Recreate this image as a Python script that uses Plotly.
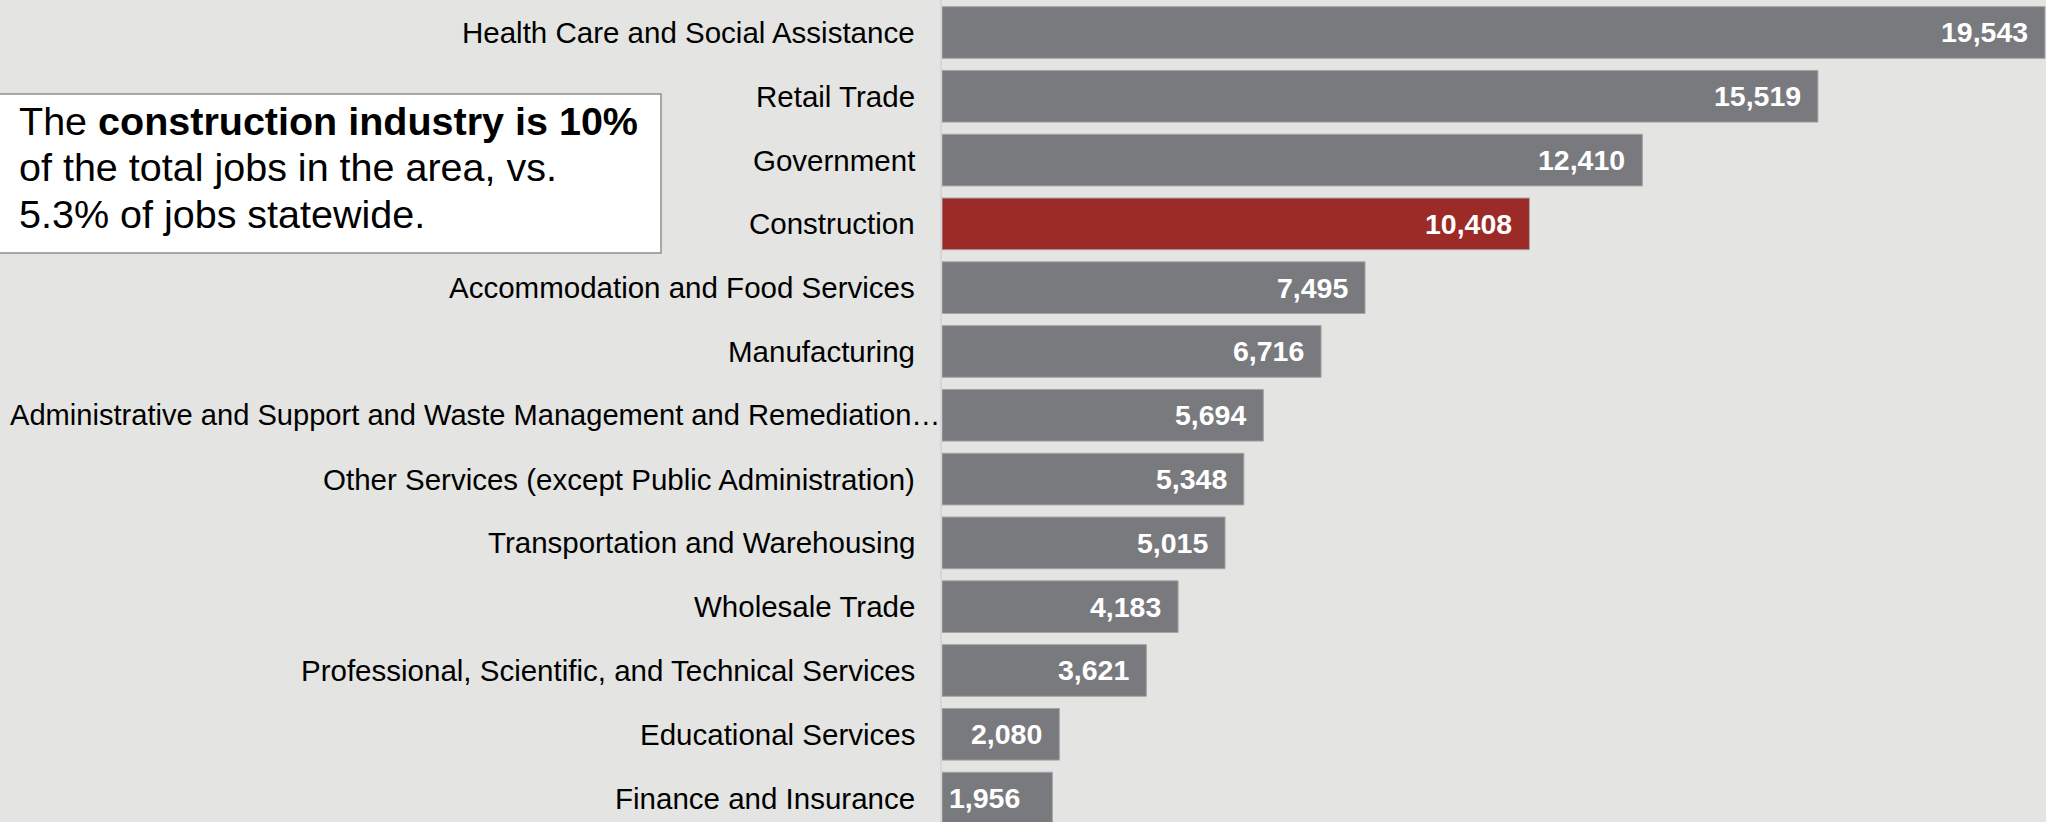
import plotly.graph_objects as go

categories = [
    "Health Care and Social Assistance",
    "Retail Trade",
    "Government",
    "Construction",
    "Accommodation and Food Services",
    "Manufacturing",
    "Administrative and Support and Waste Management and Remediation\u2026",
    "Other Services (except Public Administration)",
    "Transportation and Warehousing",
    "Wholesale Trade",
    "Professional, Scientific, and Technical Services",
    "Educational Services",
    "Finance and Insurance",
]
values = [19543, 15519, 12410, 10408, 7495, 6716, 5694, 5348, 5015, 4183, 3621, 2080, 1956]
highlight = "Construction"

callout_lines = [
    "The <b>construction industry is 10%</b>",
    "of the total jobs in the area, vs.",
    "5.3% of jobs statewide.",
]

W, H = 2046, 822
L = 942
PW = W - L
BG = "#E4E4E2"
GRAY = "#797A7E"
RED = "#9C2A27"
FONT = "Arial, Liberation Sans, sans-serif"

colors = [RED if c == highlight else GRAY for c in categories]

fig = go.Figure()
fig.add_trace(go.Bar(
    y=categories, x=values, orientation="h",
    marker=dict(color=colors, line=dict(color="#A3A4A7", width=1)),
    hoverinfo="skip",
))

xmax = max(values) * PW / (PW - 1)

annotations = []
# category labels
for c in categories:
    long = c.endswith("\u2026")
    annotations.append(dict(
        x=0, xref="paper", y=c, yref="y", xanchor="right", yanchor="middle",
        xshift=0 if long else -25, text=c, showarrow=False,
        font=dict(family=FONT, size=29.1 if long else 29.5, color="#000000"),
    ))
# value labels
for c, v in zip(categories, values):
    if v == min(values):
        annotations.append(dict(
            x=0, xref="x", y=c, yref="y", xanchor="left", yanchor="middle",
            xshift=5, text=f"<b>{v:,}</b>", showarrow=False,
            font=dict(family=FONT, size=28.5, color="#FFFFFF"),
        ))
    else:
        annotations.append(dict(
            x=v, xref="x", y=c, yref="y", xanchor="right", yanchor="middle",
            xshift=-15, text=f"<b>{v:,}</b>", showarrow=False,
            font=dict(family=FONT, size=28.5, color="#FFFFFF"),
        ))

def px_x(p):
    return (p - L) / PW

def px_y(p):
    return 1 - p / H

line_centers = [121, 167, 214]
for t, yc in zip(callout_lines, line_centers):
    annotations.append(dict(
        x=px_x(17), xref="paper", y=px_y(yc), yref="paper",
        xanchor="left", yanchor="middle", text=t, showarrow=False,
        font=dict(family=FONT, size=39.5, color="#000000"), align="left",
    ))

fig.update_layout(
    width=W, height=H,
    margin=dict(l=L, r=0, t=0, b=0, pad=0),
    paper_bgcolor=BG, plot_bgcolor=BG,
    bargap=0.19,
    showlegend=False,
    xaxis=dict(range=[0, xmax], showgrid=False, zeroline=False,
               showticklabels=False, ticks="", fixedrange=True),
    yaxis=dict(type="category", categoryorder="array", categoryarray=categories,
               range=[12.375, -0.509], showgrid=False, zeroline=False,
               showticklabels=False, ticks="", showline=True,
               linecolor="#D6D6D6", linewidth=2, fixedrange=True),
    annotations=annotations,
    shapes=[dict(
        type="rect", xref="paper", yref="paper", layer="above",
        x0=px_x(-1), x1=px_x(661), y0=px_y(253), y1=px_y(94),
        fillcolor="#FFFFFF", line=dict(color="#8E8E8E", width=1.5),
    )],
)

fig.write_html(
    "out.html",
    config={"displayModeBar": False},
    post_script="document.body.style.margin='0';document.body.style.background='#E4E4E2';document.body.style.overflow='hidden';",
)
